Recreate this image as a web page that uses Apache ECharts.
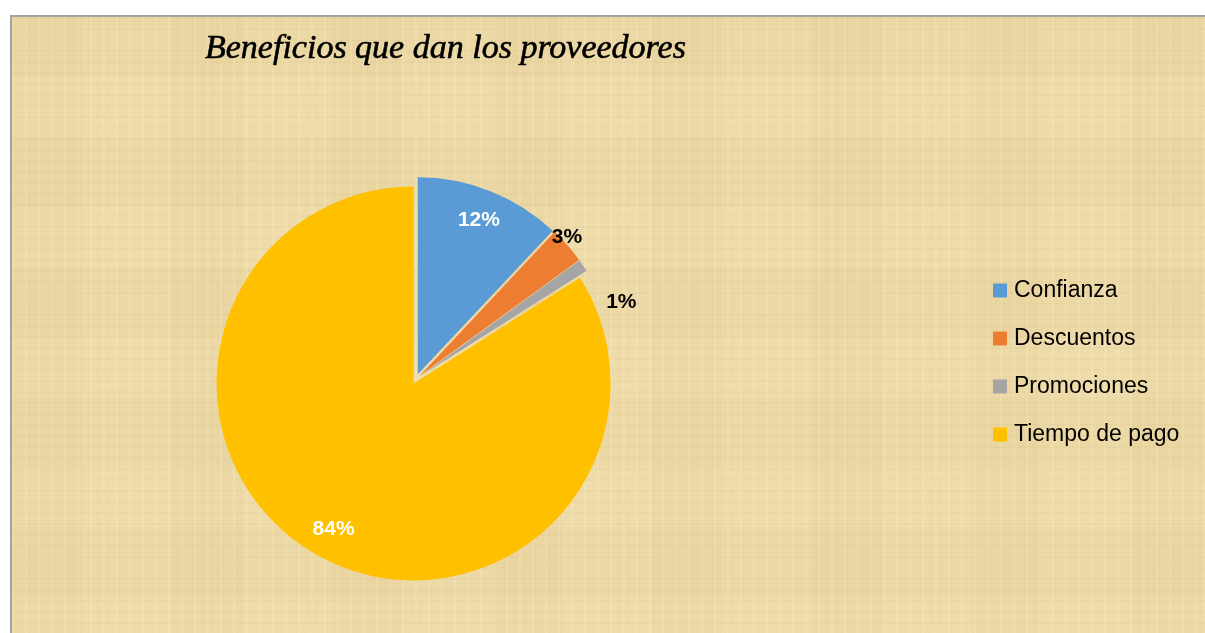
<!DOCTYPE html>
<html>
<head>
<meta charset="utf-8">
<script src="https://cdn.jsdelivr.net/npm/echarts@6/dist/echarts.min.js"></script>
<style>
    html, body {
        margin: 0;
        padding: 0;
        background: #ffffff;
        overflow: hidden;
    }
    #frame {
        position: absolute;
        left: 10px;
        top: 15px;
        width: 1210px;
        height: 640px;
        border-left: 2px solid #a3a3a3;
        border-top: 2px solid #a3a3a3;
        background-color: #ecd9a5;
        background-image:
            repeating-linear-gradient(90deg, rgba(255, 246, 215, 0.16) 0px, rgba(255, 246, 215, 0.16) 2px, rgba(0, 0, 0, 0) 2px, rgba(0, 0, 0, 0) 13px),
            repeating-linear-gradient(0deg, rgba(185, 155, 95, 0.07) 0px, rgba(185, 155, 95, 0.07) 2px, rgba(0, 0, 0, 0) 2px, rgba(0, 0, 0, 0) 11px),
            repeating-linear-gradient(0deg, rgba(255, 242, 205, 0.06) 0px, rgba(255, 242, 205, 0.06) 60px, rgba(200, 170, 110, 0.04) 60px, rgba(200, 170, 110, 0.04) 130px),
            repeating-linear-gradient(90deg, rgba(200, 170, 110, 0.04) 0px, rgba(200, 170, 110, 0.04) 70px, rgba(255, 242, 205, 0.06) 70px, rgba(255, 242, 205, 0.06) 160px);
    }
    #chart {
        position: absolute;
        left: 0;
        top: 0;
        width: 1205px;
        height: 633px;
    }
</style>
</head>
<body>
<div id="frame"></div>
<div id="chart"></div>
<script>
    // datos del grafico
    let categories = ["Confianza", "Descuentos", "Promociones", "Tiempo de pago"];
    let values = [12, 3, 1, 84];
    let colors = ["#5b9bd5", "#ed7d31", "#a5a5a5", "#ffc000"];
    let insideLabels = [true, false, false, true];

    let center = [416, 379];
    let radius = 197;

    let chart = echarts.init(document.getElementById("chart"), null, {renderer: "canvas"});

    function pct(p) {
        return Math.round(p.percent) + "%";
    }

    let sliceData = categories.map(function (name, i) {
        return {
            name: name,
            value: values[i],
            selected: true,
            itemStyle: {color: colors[i]}
        };
    });

    // series invisibles que solo sirven para colocar las etiquetas
    let innerLabelData = categories.map(function (name, i) {
        return {
            name: name,
            value: values[i],
            label: {show: insideLabels[i]}
        };
    });
    let outerLabelData = categories.map(function (name, i) {
        return {
            name: name,
            value: values[i],
            label: {show: !insideLabels[i]}
        };
    });

    let option = {
        backgroundColor: "transparent",
        animation: false,
        title: {
            text: "Beneficios que dan los proveedores",
            left: 200,
            top: 27,
            textStyle: {
                fontFamily: "Liberation Serif",
                fontStyle: "italic",
                fontWeight: "normal",
                fontSize: 34,
                color: "#000000",
                textBorderColor: "#000000",
                textBorderWidth: 0.6
            }
        },
        legend: {
            orient: "vertical",
            left: 993,
            top: 279,
            padding: 0,
            itemWidth: 14,
            itemHeight: 14,
            itemGap: 25,
            icon: "rect",
            selectedMode: false,
            textStyle: {
                fontFamily: "Liberation Sans",
                fontSize: 23,
                color: "#000000",
                padding: [0, 0, 0, 2]
            },
            data: categories.map(function (name, i) {
                return {name: name, itemStyle: {color: colors[i]}};
            })
        },
        series: [
            {
                type: "pie",
                z: 2,
                center: center,
                radius: [0, radius],
                startAngle: 90,
                clockwise: true,
                selectedMode: "multiple",
                selectedOffset: 5,
                avoidLabelOverlap: false,
                silent: true,
                label: {show: false},
                labelLine: {show: false},
                data: sliceData
            },
            {
                type: "pie",
                z: 5,
                center: center,
                radius: [0, 336],
                startAngle: 90,
                silent: true,
                avoidLabelOverlap: false,
                itemStyle: {color: "rgba(0,0,0,0)"},
                label: {
                    position: "inside",
                    formatter: pct,
                    color: "#ffffff",
                    fontFamily: "Liberation Sans",
                    fontWeight: "bold",
                    fontSize: 21
                },
                labelLine: {show: false},
                data: innerLabelData
            },
            {
                type: "pie",
                z: 5,
                center: center,
                radius: [0, 418],
                startAngle: 90,
                silent: true,
                avoidLabelOverlap: false,
                itemStyle: {color: "rgba(0,0,0,0)"},
                label: {
                    position: "inside",
                    formatter: pct,
                    color: "#000000",
                    fontFamily: "Liberation Sans",
                    fontWeight: "bold",
                    fontSize: 21
                },
                labelLine: {show: false},
                labelLayout: function (params) {
                    // Excel aparta las etiquetas pequeñas
                    if (params.dataIndex === 1) {
                        return {dx: -8, dy: -2};
                    }
                    if (params.dataIndex === 2) {
                        return {dx: 30, dy: 42};
                    }
                    return {};
                },
                data: outerLabelData
            }
        ]
    };

    chart.setOption(option);
</script>
</body>
</html>
